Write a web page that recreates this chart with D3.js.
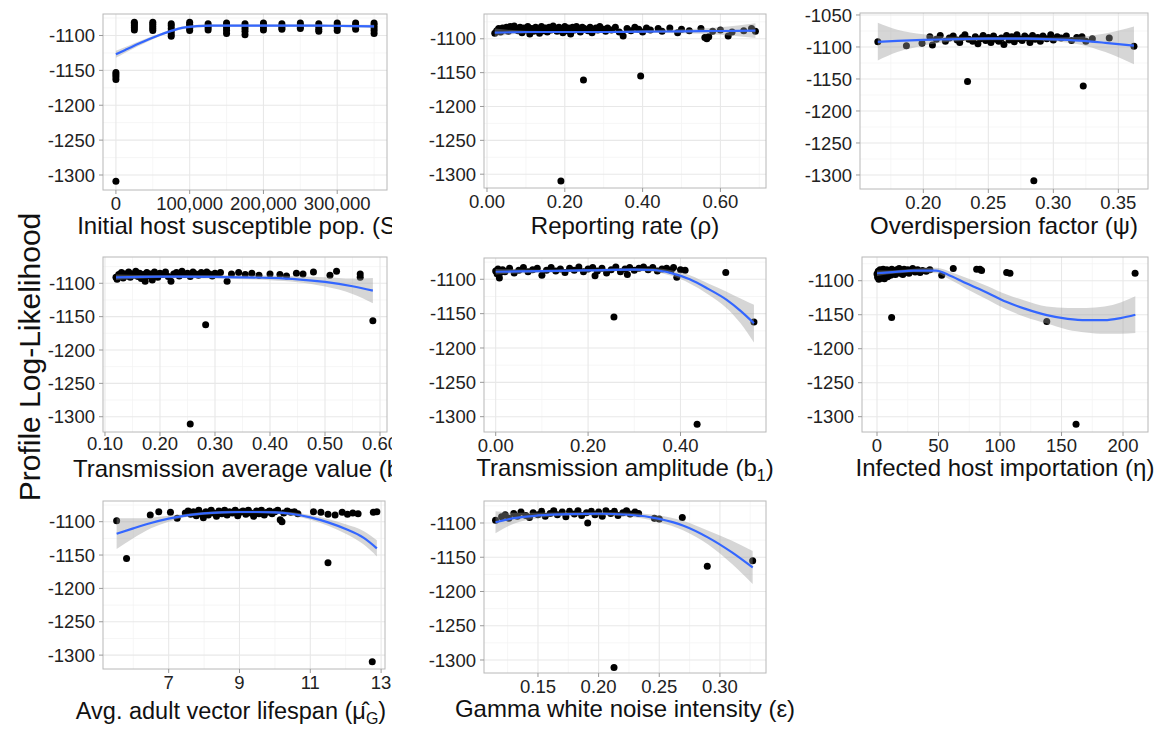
<!DOCTYPE html>
<html><head><meta charset="utf-8">
<script src="https://cdn.jsdelivr.net/npm/d3@7"></script>
<style>body{margin:0;background:#fff} text{font-family:"Liberation Sans",Arial,sans-serif}</style>
</head><body><svg id="c" width="1168" height="730"></svg>
<script>
// ---------- DATA ----------
const yTickValues = [-1300, -1250, -1200, -1150, -1100, -1050];
const yTitle = "Profile Log-Likelihood";

// Panel 1: Initial host susceptible pop. (S0)
const s0Ticks = [0, 100000, 200000, 300000];
const s0Points = [[0,-1153],[0,-1156],[0,-1159],[0,-1163],[0,-1309],
[25000,-1081],[25000,-1083],[25000,-1086],[25000,-1089],[25000,-1092],
[50000,-1081],[50000,-1084],[50000,-1087],[50000,-1090],[50000,-1093],
[75000,-1083],[75000,-1086],[75000,-1090],[75000,-1094],[75000,-1098],[75000,-1101],
[100000,-1081],[100000,-1084],[100000,-1087],[100000,-1090],[100000,-1093],
[125000,-1083],[125000,-1086],[125000,-1089],[125000,-1092],
[150000,-1082],[150000,-1085],[150000,-1089],[150000,-1093],[150000,-1097],
[175000,-1083],[175000,-1086],[175000,-1090],[175000,-1094],[175000,-1099],
[200000,-1082],[200000,-1085],[200000,-1088],[200000,-1092],
[225000,-1083],[225000,-1086],[225000,-1089],[225000,-1091],
[250000,-1082],[250000,-1085],[250000,-1088],[250000,-1090],
[275000,-1083],[275000,-1087],[275000,-1091],[275000,-1094],
[300000,-1082],[300000,-1085],[300000,-1089],[300000,-1093],
[325000,-1082],[325000,-1085],[325000,-1088],[325000,-1091],
[350000,-1082],[350000,-1085],[350000,-1089],[350000,-1093],[350000,-1097]];
const s0Fit = [[0,-1127,-1132,-1122],[12000,-1121,-1125,-1117],[24000,-1115,-1118.5,-1111.5],[36000,-1109.5,-1112.5,-1106.5],[48000,-1104,-1106.5,-1101.5],[60000,-1099,-1101,-1097],[72000,-1094.5,-1096.5,-1092.5],[84000,-1090.5,-1092.5,-1088.5],[96000,-1088,-1090,-1086],[110000,-1086.5,-1088.5,-1084.5],[130000,-1086,-1088,-1084],[175000,-1086,-1088,-1084],[225000,-1086,-1088,-1084],[275000,-1086,-1088,-1084],[325000,-1086.5,-1088.5,-1084.5],[350000,-1087,-1089.5,-1084.5]];

// Panel 2: Reporting rate (rho)
const rhoTicks = [0, 0.2, 0.4, 0.6];
const rhoPoints = [[0.02,-1092],[0.025,-1088],[0.03,-1085],[0.035,-1090],[0.04,-1084],[0.045,-1087],[0.05,-1083],[0.055,-1089],[0.06,-1082],[0.065,-1086],[0.07,-1081],[0.075,-1085],[0.08,-1088],[0.085,-1083],[0.09,-1091],[0.095,-1084],[0.10,-1087],[0.105,-1082],[0.11,-1093],[0.115,-1085],[0.12,-1089],[0.125,-1083],[0.13,-1086],[0.135,-1092],[0.14,-1082],[0.145,-1088],[0.15,-1084],[0.155,-1090],[0.16,-1083],[0.165,-1087],[0.17,-1081],[0.175,-1085],[0.18,-1089],[0.185,-1083],[0.19,-1086],[0.195,-1091],[0.20,-1082],[0.205,-1088],[0.21,-1084],[0.215,-1093],[0.22,-1083],[0.225,-1087],[0.23,-1082],[0.235,-1086],[0.24,-1090],[0.245,-1083],[0.25,-1085],[0.26,-1088],[0.265,-1083],[0.27,-1091],[0.28,-1084],[0.285,-1087],[0.29,-1082],[0.30,-1086],[0.305,-1089],[0.31,-1084],[0.32,-1087],[0.33,-1083],[0.34,-1090],[0.35,-1096],[0.36,-1085],[0.37,-1088],[0.38,-1083],[0.39,-1086],[0.40,-1090],[0.41,-1084],[0.42,-1087],[0.44,-1085],[0.45,-1089],[0.47,-1084],[0.49,-1091],[0.50,-1086],[0.52,-1088],[0.55,-1085],[0.56,-1098],[0.565,-1100],[0.57,-1097],[0.58,-1089],[0.60,-1087],[0.62,-1096],[0.63,-1090],[0.66,-1088],[0.68,-1085],[0.69,-1089],
[0.248,-1161],[0.395,-1155],[0.19,-1310]];
const rhoFit = [[0.02,-1091,-1097,-1085],[0.1,-1090,-1092,-1088],[0.2,-1090,-1091.5,-1088.5],[0.3,-1090,-1091.5,-1088.5],[0.4,-1089.5,-1091.5,-1087.5],[0.5,-1089,-1092,-1086],[0.6,-1088.5,-1094,-1083],[0.69,-1088,-1099,-1077]];

// Panel 3: Overdispersion factor (psi)
const psiTicks = [0.20, 0.25, 0.30, 0.35];
const psiPoints = [[0.165,-1092],[0.187,-1098],[0.199,-1094],[0.205,-1084],[0.207,-1097],[0.21,-1088],[0.213,-1082],[0.217,-1091],[0.22,-1086],[0.223,-1083],[0.226,-1089],[0.228,-1093],[0.23,-1085],[0.232,-1081],[0.235,-1088],[0.238,-1091],[0.24,-1084],[0.242,-1095],[0.244,-1087],[0.246,-1082],[0.248,-1090],[0.25,-1085],[0.252,-1093],[0.254,-1083],[0.256,-1088],[0.258,-1091],[0.26,-1086],[0.262,-1096],[0.264,-1082],[0.266,-1089],[0.268,-1084],[0.27,-1092],[0.272,-1081],[0.274,-1087],[0.276,-1090],[0.278,-1083],[0.28,-1086],[0.282,-1093],[0.284,-1082],[0.286,-1088],[0.288,-1085],[0.29,-1091],[0.292,-1083],[0.295,-1087],[0.298,-1081],[0.30,-1089],[0.303,-1084],[0.306,-1086],[0.31,-1083],[0.314,-1090],[0.318,-1085],[0.322,-1084],[0.325,-1091],[0.33,-1087],[0.343,-1086],[0.362,-1099],
[0.234,-1154],[0.323,-1161],[0.285,-1309]];
const psiFit = [[0.165,-1092,-1121,-1062],[0.18,-1090.5,-1108,-1073],[0.2,-1089,-1098,-1080],[0.22,-1088,-1092,-1084],[0.25,-1087,-1089.5,-1084.5],[0.28,-1087,-1089.5,-1084.5],[0.30,-1088,-1091,-1085],[0.32,-1090,-1096,-1084],[0.34,-1093.5,-1108,-1079],[0.362,-1098,-1127,-1068]];

// Panel 4: Transmission average value (b0)
const b0Ticks = [0.1, 0.2, 0.3, 0.4, 0.5, 0.6];
const b0Points = [[0.12,-1091],[0.122,-1094],[0.125,-1087],[0.128,-1090],[0.13,-1084],[0.133,-1092],[0.136,-1086],[0.14,-1089],[0.143,-1083],[0.146,-1091],[0.15,-1086],[0.153,-1088],[0.156,-1082],[0.16,-1090],[0.163,-1085],[0.166,-1093],[0.17,-1087],[0.173,-1097],[0.176,-1084],[0.18,-1089],[0.183,-1086],[0.186,-1095],[0.19,-1083],[0.193,-1088],[0.196,-1091],[0.2,-1085],[0.205,-1087],[0.21,-1083],[0.215,-1090],[0.22,-1097],[0.225,-1086],[0.23,-1084],[0.235,-1089],[0.24,-1082],[0.245,-1087],[0.25,-1085],[0.255,-1090],[0.26,-1083],[0.265,-1086],[0.27,-1088],[0.275,-1084],[0.28,-1087],[0.285,-1083],[0.29,-1086],[0.295,-1089],[0.30,-1085],[0.305,-1087],[0.31,-1084],[0.322,-1097],[0.33,-1086],[0.343,-1084],[0.355,-1087],[0.367,-1085],[0.38,-1088],[0.40,-1086],[0.418,-1087],[0.43,-1089],[0.448,-1085],[0.46,-1086],[0.479,-1083],[0.509,-1088],[0.521,-1082],[0.564,-1086],[0.564,-1091],
[0.283,-1162],[0.255,-1311],[0.587,-1156]];
const b0Fit = [[0.12,-1091,-1095,-1087],[0.2,-1090,-1092,-1088],[0.3,-1090.5,-1093,-1088],[0.4,-1092,-1095.5,-1088.5],[0.45,-1094,-1098.5,-1089.5],[0.5,-1098,-1105,-1091],[0.55,-1104.5,-1116,-1093],[0.587,-1111,-1130,-1092]];

// Panel 5: Transmission amplitude (b1)
const b1Ticks = [0, 0.2, 0.4];
const b1Points = [[0.0,-1088],[0.003,-1092],[0.005,-1085],[0.008,-1098],[0.01,-1090],[0.015,-1086],[0.02,-1089],[0.03,-1084],[0.04,-1091],[0.05,-1087],[0.06,-1083],[0.07,-1089],[0.08,-1086],[0.09,-1084],[0.1,-1094],[0.11,-1087],[0.12,-1083],[0.13,-1088],[0.14,-1085],[0.15,-1090],[0.16,-1084],[0.17,-1087],[0.18,-1082],[0.19,-1089],[0.2,-1085],[0.21,-1083],[0.215,-1095],[0.22,-1088],[0.23,-1084],[0.24,-1091],[0.25,-1086],[0.26,-1082],[0.27,-1089],[0.28,-1085],[0.285,-1093],[0.29,-1083],[0.30,-1087],[0.31,-1084],[0.32,-1082],[0.33,-1086],[0.34,-1083],[0.35,-1088],[0.36,-1085],[0.37,-1084],[0.38,-1087],[0.385,-1083],[0.392,-1097],[0.40,-1086],[0.41,-1087],[0.498,-1090],
[0.256,-1155],[0.436,-1311],[0.559,-1162]];
const b1Fit = [[0,-1089,-1093,-1085],[0.1,-1088,-1090,-1086],[0.2,-1087,-1089,-1085],[0.3,-1086,-1088,-1084],[0.34,-1086.5,-1089,-1084],[0.38,-1091,-1095,-1087],[0.42,-1100,-1106,-1094],[0.46,-1114,-1122,-1106],[0.50,-1130,-1142,-1118],[0.53,-1146,-1164,-1128],[0.559,-1164,-1192,-1137]];

// Panel 6: Infected host importation (eta)
const etaTicks = [0, 50, 100, 150, 200];
const etaPoints = [[0,-1090],[0.5,-1095],[1,-1086],[1.5,-1098],[2,-1092],[2.5,-1084],[3,-1089],[3.5,-1096],[4,-1087],[4.5,-1093],[5,-1083],[5.5,-1090],[6,-1097],[6.5,-1086],[7,-1092],[7.5,-1088],[8,-1084],[8.5,-1094],[9,-1089],[10,-1086],[11,-1092],[12,-1083],[13,-1088],[14,-1085],[15,-1091],[16,-1084],[17,-1087],[18,-1082],[19,-1089],[20,-1085],[21,-1091],[22,-1083],[23,-1087],[25,-1084],[26,-1089],[28,-1085],[29,-1082],[31,-1087],[33,-1084],[35,-1088],[37,-1085],[40,-1086],[43,-1084],
[1,-1091],[2,-1088],[3,-1094],[4,-1090],[5,-1087],[6,-1091],[7,-1085],[8,-1089],[9,-1093],[10,-1090],[12,-1087],[14,-1090],[16,-1088],[18,-1086],[20,-1089],[24,-1087],
[52.6,-1092],[62,-1082],[81,-1083],[83.7,-1083],[85,-1085],[105.4,-1088],[108.1,-1089],[209.8,-1089],
[11.9,-1154],[138,-1160],[161.8,-1311]];
const etaFit = [[0,-1089,-1093,-1085],[15,-1087,-1089.5,-1084.5],[30,-1085,-1087.5,-1082.5],[48,-1085,-1089,-1081],[60,-1093,-1099,-1087],[73,-1104,-1112,-1096],[90,-1118,-1128,-1108],[105,-1131,-1142,-1120],[120,-1141,-1153,-1129],[138,-1150.5,-1163,-1138],[155,-1156,-1172,-1140],[170,-1158,-1176,-1140],[185,-1158,-1178,-1138],[198,-1155,-1178,-1132],[210,-1150,-1177,-1123]];

// Panel 7: Avg. adult vector lifespan (mu_G)
const muTicks = [7, 9, 11, 13];
const muPoints = [[5.53,-1098.5],[6.48,-1090],[6.72,-1085],[7.05,-1086],[7.24,-1095],[7.47,-1087],[7.55,-1084],[7.62,-1089],[7.7,-1085],[7.78,-1091],[7.85,-1083],[7.92,-1088],[7.98,-1094],[8.05,-1085],[8.12,-1090],[8.2,-1083],[8.27,-1087],[8.35,-1092],[8.42,-1084],[8.5,-1088],[8.58,-1083],[8.65,-1090],[8.72,-1085],[8.8,-1087],[8.88,-1083],[8.95,-1091],[9.02,-1086],[9.1,-1084],[9.18,-1089],[9.25,-1083],[9.32,-1087],[9.4,-1092],[9.48,-1084],[9.55,-1088],[9.62,-1083],[9.7,-1090],[9.78,-1086],[9.85,-1084],[9.92,-1088],[10.0,-1085],[10.08,-1083],[10.15,-1097],[10.2,-1100],[10.25,-1087],[10.35,-1084],[10.45,-1086],[10.55,-1085],[10.65,-1088],[11.09,-1085],[11.3,-1086],[11.5,-1089],[11.7,-1090],[11.9,-1086],[12.05,-1089],[12.2,-1087],[12.35,-1088],[12.78,-1086],[12.88,-1085],
[5.81,-1155],[11.5,-1161.5],[12.75,-1310]];
const muFit = [[5.53,-1118,-1141,-1095],[6,-1110,-1125,-1095],[6.5,-1102,-1110,-1094],[7,-1095.5,-1100,-1091],[7.5,-1090.5,-1093,-1088],[8,-1087.5,-1089.5,-1085.5],[8.5,-1086,-1088,-1084],[9,-1085.5,-1087.5,-1083.5],[9.5,-1085.5,-1087.5,-1083.5],[10,-1086,-1088,-1084],[10.5,-1088.5,-1091,-1086],[11,-1093.5,-1097,-1090],[11.5,-1101,-1106,-1096],[12,-1111,-1118,-1104],[12.5,-1124,-1134,-1114],[12.88,-1140,-1152,-1128]];

// Panel 8: Gamma white noise intensity (epsilon)
const epsTicks = [0.15, 0.20, 0.25, 0.30];
const epsPoints = [[0.115,-1096],[0.12,-1091],[0.123,-1088],[0.126,-1093],[0.13,-1086],[0.133,-1090],[0.136,-1084],[0.14,-1089],[0.143,-1092],[0.146,-1085],[0.15,-1088],[0.153,-1083],[0.156,-1090],[0.16,-1086],[0.163,-1082],[0.166,-1088],[0.17,-1084],[0.173,-1091],[0.176,-1083],[0.18,-1087],[0.183,-1082],[0.186,-1089],[0.19,-1085],[0.191,-1100],[0.194,-1083],[0.197,-1088],[0.2,-1084],[0.203,-1090],[0.206,-1082],[0.21,-1086],[0.213,-1083],[0.216,-1089],[0.22,-1085],[0.223,-1082],[0.226,-1087],[0.23,-1084],[0.233,-1086],[0.246,-1093],[0.25,-1094],[0.269,-1092],
[0.2127,-1311],[0.2896,-1163],[0.327,-1155]];
const epsFit = [[0.115,-1099,-1115,-1083],[0.13,-1093,-1101,-1085],[0.15,-1089,-1093,-1085],[0.175,-1087,-1089.5,-1084.5],[0.2,-1086.5,-1089,-1084],[0.225,-1088,-1091,-1085],[0.25,-1094,-1099,-1089],[0.27,-1104,-1111,-1097],[0.29,-1121,-1131,-1111],[0.31,-1143,-1160,-1126],[0.327,-1165,-1189,-1141]];

// ---------- LAYOUT / CONFIG ----------
const f2 = d3.format(".2f");
const panels = [
 {pts:s0Points, fit:s0Fit, ticks:s0Ticks, fmt:d3.format(","), xd:[-17500,367500], yd:[-1321.5,-1069.2], box:[103,14,387,190], tb:234, clip:392,
  title:[["Initial host susceptible pop. (S",""],["0","sub"],[")",""]]},
 {pts:rhoPoints, fit:rhoFit, ticks:rhoTicks, fmt:f2, xd:[-0.0077,0.7172], yd:[-1320.4,-1063.4], box:[484,14,766,188], tb:234,
  title:[["Reporting rate (ρ)",""]]},
 {pts:psiPoints, fit:psiFit, ticks:psiTicks, fmt:f2, xd:[0.1513,0.3728], yd:[-1321.9,-1046.9], box:[860,13,1148,189], tb:234,
  title:[["Overdispersion factor (ψ)",""]]},
 {pts:b0Points, fit:b0Fit, ticks:b0Ticks, fmt:f2, xd:[0.0964,0.6127], yd:[-1322.9,-1060.6], box:[103,257,387,432], tb:477, tl:18, clip:392,
  title:[["Transmission average value (b",""],["0","sub"],[")",""]]},
 {pts:b1Points, fit:b1Fit, ticks:b1Ticks, fmt:f2, xd:[-0.0253,0.5851], yd:[-1322.3,-1069], box:[484,258,766,432], tb:476,
  title:[["Transmission amplitude (b",""],["1","sub"],[")",""]]},
 {pts:etaPoints, fit:etaFit, ticks:etaTicks, fmt:d3.format("d"), xd:[-12.2,220.3], yd:[-1322.5,-1065.1], box:[862,257,1148,432], tb:476,
  title:[["Infected host importation (η)",""]]},
 {pts:muPoints, fit:muFit, ticks:muTicks, fmt:d3.format("d"), xd:[5.145,13.11], yd:[-1320.8,-1069], box:[103,501,385,669], tb:719, tx:231, fs:23.5, clip:394,
  title:[["Avg. adult vector lifespan (μ̂",""],["G","sub"],[")",""]]},
 {pts:epsPoints, fit:epsFit, ticks:epsTicks, fmt:f2, xd:[0.1055,0.338], yd:[-1319,-1067.9], box:[484,501,766,673], tb:717,
  title:[["Gamma white noise intensity (ε)",""]]}
];

const svg = d3.select("#c");
svg.append("rect").attr("width",1168).attr("height",730).attr("fill","#fff");
const defs = svg.append("defs");

panels.forEach((p, i) => {
  const [x0, y0, x1, y1] = p.box;
  let g = svg.append("g");
  if (p.clip) {
    defs.append("clipPath").attr("id","cl"+i).append("rect").attr("x",0).attr("y",0).attr("width",p.clip).attr("height",730);
    g.attr("clip-path","url(#cl"+i+")");
  }
  const x = d3.scaleLinear().domain(p.xd).range([x0, x1]);
  const y = d3.scaleLinear().domain(p.yd).range([y1, y0]);
  g.append("rect").attr("x",x0).attr("y",y0).attr("width",x1-x0).attr("height",y1-y0).attr("fill","#fff");
  // minor grid
  const step = p.ticks[1]-p.ticks[0];
  const xMinor = d3.range(-3, p.ticks.length+3).map(k => p.ticks[0] - step/2 + k*step).filter(v => v>p.xd[0] && v<p.xd[1]);
  const yT = yTickValues.filter(v => v>=p.yd[0] && v<=p.yd[1]);
  const yMinor = d3.range(-1, 8).map(k => -1325 + k*50).filter(v => v>p.yd[0] && v<p.yd[1]);
  g.selectAll(".xm").data(xMinor).join("line").attr("x1",d=>x(d)).attr("x2",d=>x(d)).attr("y1",y0).attr("y2",y1).attr("stroke","#f4f4f4").attr("stroke-width",0.8);
  g.selectAll(".ym").data(yMinor).join("line").attr("y1",d=>y(d)).attr("y2",d=>y(d)).attr("x1",x0).attr("x2",x1).attr("stroke","#f4f4f4").attr("stroke-width",0.8);
  g.selectAll(".xg").data(p.ticks).join("line").attr("x1",d=>x(d)).attr("x2",d=>x(d)).attr("y1",y0).attr("y2",y1).attr("stroke","#e8e8e8").attr("stroke-width",1.1);
  g.selectAll(".yg").data(yT).join("line").attr("y1",d=>y(d)).attr("y2",d=>y(d)).attr("x1",x0).attr("x2",x1).attr("stroke","#e8e8e8").attr("stroke-width",1.1);
  // points
  g.selectAll(".pt").data(p.pts).join("circle").attr("cx",d=>x(d[0])).attr("cy",d=>y(d[1])).attr("r",3.5).attr("fill","#000");
  // ribbon + smooth line
  const area = d3.area().x(d=>x(d[0])).y0(d=>y(d[2])).y1(d=>y(d[3])).curve(d3.curveMonotoneX);
  g.append("path").attr("d",area(p.fit)).attr("fill","#999").attr("fill-opacity",0.4);
  const line = d3.line().x(d=>x(d[0])).y(d=>y(d[1])).curve(d3.curveMonotoneX);
  g.append("path").attr("d",line(p.fit)).attr("fill","none").attr("stroke","#3366FF").attr("stroke-width",2.2);
  // border
  g.append("rect").attr("x",x0).attr("y",y0).attr("width",x1-x0).attr("height",y1-y0).attr("fill","none").attr("stroke","#b8b8b8").attr("stroke-width",1);
  // y axis
  g.selectAll(".yt").data(yT).join("line").attr("x1",x0-4).attr("x2",x0).attr("y1",d=>y(d)).attr("y2",d=>y(d)).attr("stroke","#999");
  g.selectAll(".yl").data(yT).join("text").attr("x",x0-8).attr("y",d=>y(d)).attr("dy","0.36em").attr("text-anchor","end")
    .attr("font-size",18.5).attr("fill","#222").text(d=>d);
  // x axis
  g.selectAll(".xt").data(p.ticks).join("line").attr("x1",d=>x(d)).attr("x2",d=>x(d)).attr("y1",y1).attr("y2",y1+4).attr("stroke","#999");
  g.selectAll(".xl").data(p.ticks).join("text").attr("x",d=>x(d)).attr("y",y1+(p.tl||19.5)).attr("text-anchor","middle")
    .attr("font-size",18.5).attr("fill","#222").text(d=>p.fmt(d));
  // title
  const t = g.append("text").attr("x",p.tx||(x0+x1)/2).attr("y",p.tb).attr("text-anchor","middle").attr("font-size",p.fs||24).attr("fill","#111");
  let shifted = false;
  p.title.forEach(([s, kind]) => {
    const ts = t.append("tspan").text(s);
    if (kind === "sub") { ts.attr("font-size",16).attr("dy",5); shifted = true; }
    else if (shifted) { ts.attr("dy",-5); shifted = false; }
  });
});

svg.append("text").attr("transform","translate(40,357) rotate(-90)").attr("text-anchor","middle")
  .attr("font-size",30).attr("fill","#111").text(yTitle);
</script></body></html>
